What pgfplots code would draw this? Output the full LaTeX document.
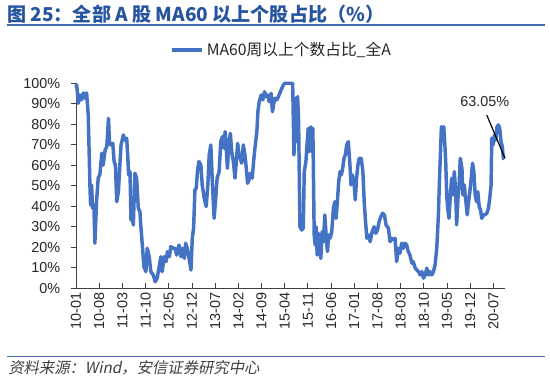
\documentclass[border=0pt]{standalone}
\usepackage{fontspec}
\setmainfont{Liberation Sans}
\newfontfamily\cjk{Noto Sans CJK SC}
\newfontfamily\cjkit[FakeSlant=0.2]{Noto Sans CJK SC}
\usepackage{pgfplots}
\pgfplotsset{compat=1.18}
\usepackage{pgfplotstable}
\definecolor{lineblue}{RGB}{68,114,196}
\definecolor{titleblue}{RGB}{38,84,160}
\definecolor{rule}{RGB}{68,106,180}
\pgfplotstableread{
m v
0.0 98.0
0.2 99.2
0.7 90.2
1.2 94.3
1.7 91.9
2.2 95.3
2.7 92.8
3.2 95.3
3.7 84.5
4.2 50.4
4.4 40.6
4.7 50.4
5.0 39.0
5.4 40.6
5.7 22.0
6.2 42.2
6.7 53.7
7.2 55.3
7.8 65.9
8.2 60.1
8.8 67.5
9.3 69.1
9.8 82.9
10.1 71.5
10.5 69.9
11.1 70.7
11.5 61.8
11.9 60.1
12.3 42.2
12.8 47.1
13.3 61.8
13.6 69.9
14.3 74.8
14.8 72.3
15.3 73.2
15.6 65.0
15.9 55.3
16.3 56.9
16.6 33.3
16.9 35.8
17.3 30.9
17.8 56.1
18.3 53.7
18.8 39.0
19.3 37.4
19.5 31.7
20.1 19.5
20.5 10.5
21.1 8.1
21.5 19.5
22.1 15.4
22.6 8.1
23.3 6.5
23.9 3.2
24.5 4.9
25.2 11.4
25.6 15.4
26.0 8.1
26.6 15.4
27.2 13.0
27.6 17.9
28.2 15.4
28.6 20.3
29.4 19.5
29.9 19.5
30.4 16.2
31.1 21.1
31.7 15.4
32.1 19.5
32.7 14.6
33.1 22.0
33.7 18.7
34.3 13.0
34.7 8.9
35.1 24.4
35.5 29.3
35.9 48.0
36.3 48.8
36.7 57.7
37.1 61.8
37.7 60.1
38.1 50.4
38.7 43.9
39.3 39.8
39.8 50.4
40.2 65.0
40.7 69.9
41.2 50.4
41.7 34.1
42.1 42.2
42.6 53.7
43.2 56.9
43.7 71.5
44.2 74.0
44.7 68.3
45.0 76.4
45.3 69.9
45.7 58.5
46.2 71.5
46.6 75.6
47.0 66.6
47.5 61.8
48.0 53.7
48.4 61.8
48.8 70.7
49.2 65.0
49.6 63.4
50.0 61.0
50.5 69.9
51.0 65.0
51.4 58.5
51.8 51.2
52.2 52.8
52.6 56.1
53.2 53.7
53.7 63.4
54.0 68.3
54.6 76.4
54.9 86.1
55.3 91.0
55.9 94.3
56.4 91.9
56.9 95.9
57.4 93.5
57.9 94.3
58.3 91.0
58.9 95.1
59.3 86.1
59.7 90.2
60.1 92.7
60.6 91.9
61.1 93.5
61.9 96.7
62.6 99.2
63.1 100
65.4 100
65.8 65.0
66.2 92.7
66.6 71.5
66.9 93.5
67.2 81.3
67.4 55.3
67.6 30.0
68.1 28.4
68.6 29.3
68.9 56.9
69.4 61.8
69.8 71.5
70.1 78.0
70.4 66.6
70.9 78.8
71.3 66.6
71.5 78.0
71.9 26.0
72.2 21.1
72.5 30.0
72.8 16.2
73.2 26.8
73.5 21.1
73.9 14.6
74.3 27.6
74.7 22.7
75.1 35.8
75.5 26.0
75.9 17.9
76.3 26.0
76.7 24.4
77.2 27.6
77.7 39.0
78.1 42.2
78.5 34.1
78.9 42.2
79.3 52.0
79.7 56.9
80.1 55.3
80.5 58.5
80.9 63.4
81.3 65.0
81.7 69.9
82.2 71.5
82.7 60.1
83.0 50.4
83.4 55.3
83.9 52.0
84.3 43.1
84.7 53.7
85.1 60.1
85.5 63.4
86.1 63.4
86.6 56.9
87.0 42.2
87.4 32.5
87.8 24.4
88.3 26.0
88.8 22.7
89.4 27.6
90.0 30.0
90.5 26.8
91.0 28.4
91.5 32.5
92.0 34.9
92.6 36.6
93.1 35.8
93.6 30.9
94.3 29.3
94.8 22.7
95.3 24.4
95.8 23.6
96.3 24.4
96.8 13.0
97.3 19.5
97.8 17.1
98.3 22.0
98.8 19.5
99.3 22.0
99.8 21.1
100.3 17.9
100.8 16.2
101.4 12.2
101.8 13.0
102.4 9.8
102.9 8.9
103.4 8.1
103.9 6.5
104.4 8.1
104.9 4.9
105.4 6.5
105.9 9.8
106.4 6.5
106.9 8.1
107.4 6.5
107.9 8.1
108.4 11.4
108.9 19.5
109.4 35.8
109.7 52.0
110.0 65.0
110.3 78.8
110.7 76.4
111.0 78.8
111.3 71.5
111.6 61.8
111.9 45.5
112.2 39.0
112.6 34.1
113.0 45.5
113.4 53.7
113.8 45.5
114.2 56.9
114.6 47.1
114.9 30.9
115.3 43.9
115.6 48.8
116.0 63.4
116.5 58.5
116.8 45.5
117.2 50.4
117.7 42.2
118.1 35.8
118.5 42.2
118.9 47.1
119.3 53.7
119.7 61.0
120.1 56.9
120.5 45.5
120.9 42.2
121.3 47.1
121.7 39.8
122.1 38.2
122.5 34.1
123.0 35.8
123.5 35.8
124.0 36.6
124.5 39.0
124.9 43.9
125.3 50.4
125.5 73.2
125.9 69.9
126.3 74.8
126.7 72.3
127.1 78.8
127.5 79.7
127.9 78.0
128.3 71.5
128.7 69.1
129.0 63.4
129.3 63.05
}\datatable

\begin{document}
\begin{tikzpicture}
\path[use as bounding box] (0pt,0pt) rectangle (412.5pt,283.5pt);
\node[anchor=west,text=titleblue,font=\cjk\bfseries\fontsize{14.3}{17}\selectfont,inner sep=0] at (5.25pt,273pt) {图 25：全部 A 股 MA60 以上个股占比（\%）};
\draw[rule, line width=1.1pt] (5.25pt,264.75pt) -- (408.75pt,264.75pt);
\draw[rule, line width=1.1pt] (5.25pt,16pt) -- (408.75pt,16pt);
\node[anchor=west, font=\cjkit\fontsize{11.5}{13}\selectfont, text=black!75, inner sep=0] at (6pt,7.5pt) {资料来源：Wind，安信证券研究中心};
\begin{axis}[
  at={(57pt,67.3pt)}, anchor=south west,
  scale only axis, width=321.75pt, height=153.75pt,
  xmin=0, xmax=129.5, ymin=0, ymax=100,
  clip=false,
  axis x line=bottom, axis y line=left,
  axis line style={-, black!75, line width=0.7pt},
  xtick={0,7,...,126},
  xticklabels={10-01,10-08,11-03,11-10,12-05,12-12,13-07,14-02,14-09,15-04,15-11,16-06,17-01,17-08,18-03,18-10,19-05,19-12,20-07},
  ytick={0,10,...,100},
  yticklabels={0\%,10\%,20\%,30\%,40\%,50\%,60\%,70\%,80\%,90\%,100\%},
  xtick align=inside, ytick align=outside,
  major tick length=3.75pt,
  tick style={black!75, line width=0.6pt},
  tick label style={font=\fontsize{10.8}{12}\selectfont, text=black!85},
  y tick label style={xshift=-4.5pt},
  x tick label style={rotate=90, anchor=east},
  legend style={at={(0.48,1.162)}, anchor=center, draw=none, fill=none, font=\cjk\fontsize{11.8}{13}\selectfont, text=black!85},
  legend image code/.code={\draw[#1] (0cm,0cm) -- (0.8cm,0cm);},
]
\addplot[lineblue, line width=2.6pt, line join=round] table[x=m, y=v] {\datatable};
\addlegendentry{MA60周以上个数占比\_全A}
\draw[black, line width=0.9pt] (axis cs:124.0,84.5) -- (axis cs:129.5,63.4);
\node[font=\fontsize{10.8}{12}\selectfont, text=black!85] at (axis cs:123.4,91.0) {63.05\%};
\end{axis}
\end{tikzpicture}
\end{document}
